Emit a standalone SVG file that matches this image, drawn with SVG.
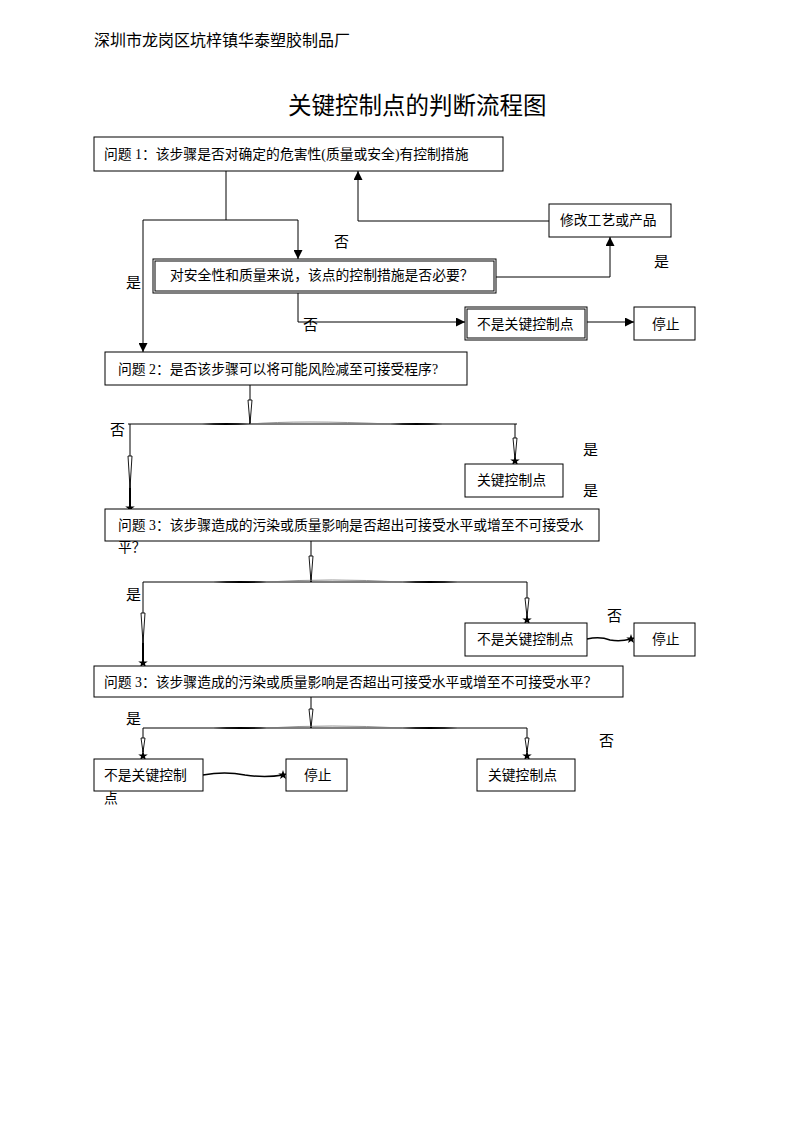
<svg xmlns="http://www.w3.org/2000/svg" width="793" height="1122" viewBox="0 0 793 1122">
<style>
  text { font-family: "Liberation Serif", "Noto Sans CJK SC", serif; fill: #000; }
  .t { font-size: 13.8px; }
  .lbl { font-size: 15px; }
  .box { fill: #fff; stroke: #000; stroke-width: 1; }
  .ln { fill: none; stroke: #000; stroke-width: 1; }
  .hol { fill: #fff; stroke: #000; stroke-width: 0.9; }
  .thk { fill: #000; stroke: none; }
</style>
<defs>
  <marker id="arr" viewBox="0 0 10 10" refX="10" refY="5" markerWidth="9" markerHeight="9" markerUnits="userSpaceOnUse" orient="auto">
    <path d="M0,0 L10,5 L0,10 Z" fill="#000"/>
  </marker>
  <marker id="star" viewBox="-6 -6 12 12" refX="0" refY="0" markerWidth="12" markerHeight="12" markerUnits="userSpaceOnUse" orient="0">
    <path d="M0,-5 L1.18,-1.62 L4.76,-1.55 L1.90,0.62 L2.94,4.05 L0,2 L-2.94,4.05 L-1.90,0.62 L-4.76,-1.55 L-1.18,-1.62 Z" fill="#000"/>
  </marker>
</defs>
<rect width="793" height="1122" fill="#fff"/>

<text x="94" y="46" style="font-size:16px">深圳市龙岗区坑梓镇华泰塑胶制品厂</text>
<text x="288" y="114" style="font-size:23.5px">关键控制点的判断流程图</text>

<g id="connectors">
  <!-- Q1 outgoing -->
  <polyline class="ln" points="226,171 226,220"/>
  <polyline class="ln" points="143,220 298,220 298,259" marker-end="url(#arr)"/>
  <polyline class="ln" points="143,220 143,352" marker-end="url(#arr)"/>
  <!-- box2 yes to modify -->
  <polyline class="ln" points="496,277 610,277 610,237" marker-end="url(#arr)"/>
  <!-- modify to Q1 -->
  <polyline class="ln" points="549,221 358,221 358,171" marker-end="url(#arr)"/>
  <!-- box2 no -->
  <polyline class="ln" points="298,293 298,322 465,322" marker-end="url(#arr)"/>
  <polyline class="ln" points="587,322 634,322" marker-end="url(#arr)"/>

  <!-- Q2 branches -->
  <polyline class="ln" points="250,385 250,424"/>
  <polygon class="hol" points="248,400 252,400 250,424"/>
  <polyline class="ln" points="128,424 517,424"/>
  <path class="thk" d="M202,424 Q226,422 250,424 Q226,426 202,424 Z"/>
  <path class="thk" d="M390,424 Q416,422 443,424 Q416,426 390,424 Z"/>
  <path d="M250,424 Q300,420 390,424" fill="none" stroke="#777" stroke-width="0.8"/>
  <polyline class="ln" points="130,424 130,508" marker-end="url(#star)"/>
  <polygon class="hol" points="128,456 132,456 130,488"/>
  <line x1="130" y1="488" x2="130" y2="508" stroke="#000" stroke-width="2"/>
  <polyline class="ln" points="515,424 515,461" marker-end="url(#star)"/>
  <polygon class="hol" points="513,438 517,438 515,460"/>

  <!-- Q3 branches -->
  <polyline class="ln" points="311,541 311,582"/>
  <polygon class="hol" points="309,556 313,556 311,582"/>
  <polyline class="ln" points="143,582 527,582"/>
  <path class="thk" d="M213,582 Q240,580 267,582 Q240,584 213,582 Z"/>
  <path class="thk" d="M402,582 Q430,580 458,582 Q430,584 402,582 Z"/>
  <path d="M267,582 Q330,578 402,582" fill="none" stroke="#777" stroke-width="0.8"/>
  <polyline class="ln" points="143,582 143,663" marker-end="url(#star)"/>
  <polygon class="hol" points="141,613 145,613 143,643"/>
  <line x1="143" y1="643" x2="143" y2="663" stroke="#000" stroke-width="2"/>
  <polyline class="ln" points="527,582 527,620" marker-end="url(#star)"/>
  <polygon class="hol" points="525,598 529,598 527,617"/>
  <path d="M587,639 Q600,636 610,640 Q620,642 631,639" fill="none" stroke="#000" stroke-width="1.6" marker-end="url(#star)"/>

  <!-- Q4 branches -->
  <polyline class="ln" points="311,697 311,728"/>
  <polygon class="hol" points="309,709 313,709 311,728"/>
  <polyline class="ln" points="143,728 527,728"/>
  <path class="thk" d="M213,728 Q240,726 267,728 Q240,730 213,728 Z"/>
  <path class="thk" d="M402,728 Q430,726 458,728 Q430,730 402,728 Z"/>
  <path d="M267,728 Q330,724 402,728" fill="none" stroke="#777" stroke-width="0.8"/>
  <polyline class="ln" points="143,728 143,756" marker-end="url(#star)"/>
  <polygon class="hol" points="141,738 145,738 143,752"/>
  <polyline class="ln" points="527,728 527,756" marker-end="url(#star)"/>
  <polygon class="hol" points="525,738 529,738 527,752"/>
  <path d="M203,775 Q225,771 245,775 Q265,778 283,775" fill="none" stroke="#000" stroke-width="1.6" marker-end="url(#star)"/>
</g>

<g id="q1">
  <rect class="box" x="94" y="137" width="409" height="34"/>
  <text class="t" x="104" y="159">问题 1：该步骤是否对确定的危害性(质量或安全)有控制措施</text>
</g>
<g id="modify">
  <rect class="box" x="549" y="204" width="122" height="33"/>
  <text class="t" x="560" y="225">修改工艺或产品</text>
</g>
<g id="necessary">
  <rect class="box" x="153" y="259" width="343" height="34"/>
  <rect class="ln" x="155" y="261" width="339" height="30"/>
  <text class="t" x="170" y="280">对安全性和质量来说，该点的控制措施是否必要？</text>
</g>
<g id="notccp1">
  <rect class="box" x="465" y="307" width="122" height="33"/>
  <rect class="ln" x="467" y="309" width="118" height="29"/>
  <text class="t" x="477" y="329">不是关键控制点</text>
</g>
<g id="stop1">
  <rect class="box" x="634" y="307" width="61" height="33"/>
  <text class="t" x="652" y="329">停止</text>
</g>
<g id="q2">
  <rect class="box" x="105" y="352" width="362" height="33"/>
  <text class="t" x="118" y="374">问题 2：是否该步骤可以将可能风险减至可接受程序?</text>
</g>
<g id="ccp1">
  <rect class="box" x="465" y="464" width="98" height="33"/>
  <text class="t" x="477" y="485">关键控制点</text>
</g>
<g id="q3">
  <rect class="box" x="105" y="509" width="494" height="32"/>
  <text class="t" x="118" y="530">问题 3：该步骤造成的污染或质量影响是否超出可接受水平或增至不可接受水</text>
  <text class="t" x="118" y="552">平？</text>
</g>
<g id="notccp2">
  <rect class="box" x="465" y="623" width="122" height="33"/>
  <text class="t" x="477" y="644">不是关键控制点</text>
</g>
<g id="stop2">
  <rect class="box" x="634" y="623" width="61" height="33"/>
  <text class="t" x="652" y="644">停止</text>
</g>
<g id="q4">
  <rect class="box" x="94" y="666" width="529" height="31"/>
  <text class="t" x="104" y="687">问题 3：该步骤造成的污染或质量影响是否超出可接受水平或增至不可接受水平？</text>
</g>
<g id="notccp3">
  <rect class="box" x="94" y="759" width="109" height="32"/>
  <text class="t" x="104" y="780">不是关键控制</text>
  <text class="t" x="104" y="803">点</text>
</g>
<g id="stop3">
  <rect class="box" x="286" y="759" width="61" height="32"/>
  <text class="t" x="304" y="780">停止</text>
</g>
<g id="ccp2">
  <rect class="box" x="477" y="759" width="98" height="32"/>
  <text class="t" x="488" y="780">关键控制点</text>
</g>

<g id="labels">
  <text class="lbl" x="334" y="247">否</text>
  <text class="lbl" x="654" y="267">是</text>
  <text class="lbl" x="126" y="288">是</text>
  <text class="lbl" x="303" y="330">否</text>
  <text class="lbl" x="110" y="435">否</text>
  <text class="lbl" x="583" y="455">是</text>
  <text class="lbl" x="583" y="496">是</text>
  <text class="lbl" x="126" y="600">是</text>
  <text class="lbl" x="607" y="621">否</text>
  <text class="lbl" x="126" y="724">是</text>
  <text class="lbl" x="599" y="746">否</text>
</g>
</svg>
